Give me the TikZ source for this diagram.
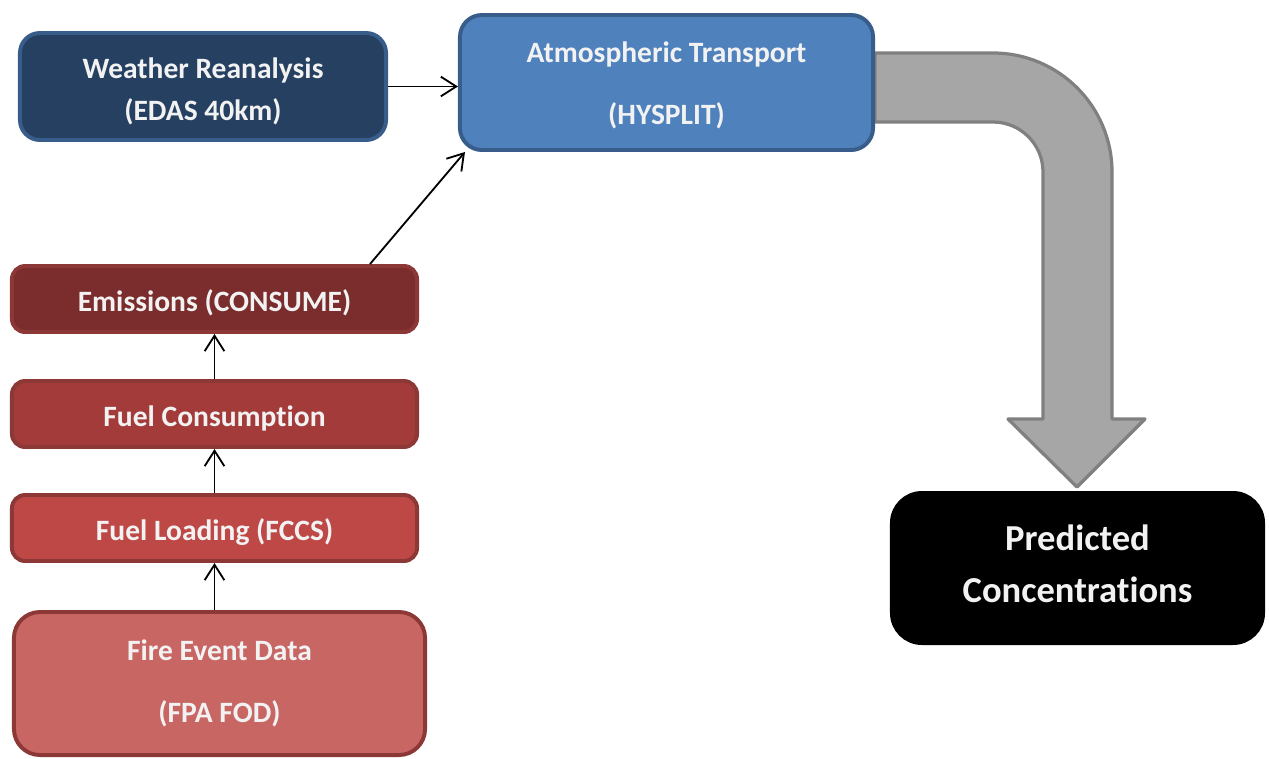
\documentclass[tikz,border=0pt]{standalone}
\usepackage{fontspec}
\setmainfont{Carlito}[Ligatures={NoCommon,NoContextual}]
\usetikzlibrary{arrows.meta,calc}

\definecolor{navyfill}{HTML}{254061}
\definecolor{bluefill}{HTML}{4F81BD}
\definecolor{blueline}{HTML}{385D8A}
\definecolor{redline}{HTML}{8C3836}
\definecolor{emisfill}{HTML}{7B2C2C}
\definecolor{consfill}{HTML}{A23B3A}
\definecolor{loadfill}{HTML}{BE4846}
\definecolor{firefill}{HTML}{C86663}
\definecolor{boxtext}{HTML}{F2F2F2}
\definecolor{arrowfill}{HTML}{A6A6A6}
\definecolor{arrowline}{HTML}{808080}

\begin{document}
\begin{tikzpicture}[x=0.025cm,y=-0.025cm,
	box/.style={draw, line width=2.8pt, align=center, inner sep=0pt, text=boxtext, font=\bfseries\fontsize{21}{30}\selectfont},
	redbox/.style={box, draw=redline, rounded corners=0.33cm, minimum width=10.125cm, minimum height=1.65cm, execute at begin node={\rule{0pt}{21pt}}},
	conn/.style={-{Straight Barb[length=11pt,width=14pt]}, line width=1.3pt}]
	
	\useasboundingbox (0,0) rectangle (1269,758);
	
	% bent arrow towards the result
	\draw[fill=arrowfill, draw=arrowline, line width=2.3pt, line join=round] (875,53) -- (993,53) arc(-90:0:119) -- (1112,419) -- (1145,419) -- (1077,487) -- (1008,419) -- (1043,419) -- (1043,172) arc(0:-90:50) -- (875,122) -- cycle;
	
	\node[box, fill=navyfill, draw=blueline, rounded corners=0.5cm, minimum width=9.15cm, minimum height=2.675cm] (weather) at (203,86.5) {\rule{0pt}{22pt}Weather Reanalysis\\(EDAS 40km)};
	\node[box, fill=bluefill, draw=blueline, rounded corners=0.55cm, minimum width=10.325cm, minimum height=3.375cm] (transport) at (666.5,82.5) {\rule{0pt}{19pt}Atmospheric Transport\\[14pt](HYSPLIT)};
	
	\node[redbox, fill=emisfill] (emissions) at (214.5,299) {Emissions (CONSUME)};
	\node[redbox, fill=consfill] (consumption) at (214.5,414) {Fuel Consumption};
	\node[redbox, fill=loadfill] (loading) at (214.5,528) {Fuel Loading (FCCS)};
	\node[box, fill=firefill, draw=redline, rounded corners=0.65cm, minimum width=10.275cm, minimum height=3.575cm] (fire) at (219.5,683.5) {Fire Event Data\\[14pt](FPA FOD)};
	
	\node[box, fill=black, draw=black, rounded corners=0.75cm, minimum width=9.275cm, minimum height=3.75cm, font=\bfseries\fontsize{26}{37}\selectfont] (predicted) at (1077.5,568) {Predicted\\Concentrations\rule[-6pt]{0pt}{0pt}};
	
	% connectors
	\draw[conn] (weather.east) -- (weather.east -| transport.west);
	\draw[conn] ($(emissions.north east)+(-49,0)$) -- ($(transport.south west)+(7,0)$);
	\draw[conn] (consumption.north) -- (emissions.south);
	\draw[conn] (loading.north) -- (consumption.south);
	\draw[conn] (fire.north -| loading.south) -- (loading.south);
\end{tikzpicture}
\end{document}
